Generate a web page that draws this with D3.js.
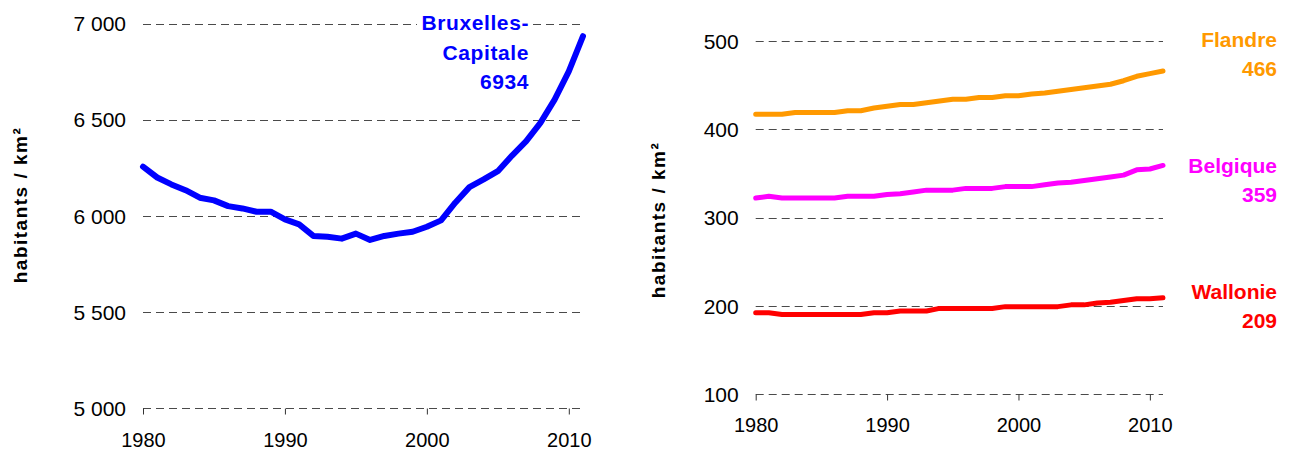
<!DOCTYPE html>
<html>
<head>
<meta charset="utf-8">
<script src="https://cdn.jsdelivr.net/npm/d3@7"></script>
<style>
  body { margin: 0; background: #fff; }
  text { font-family: "Liberation Sans", Arial, sans-serif; }
</style>
</head>
<body>
<svg id="chart" width="1293" height="449"></svg>
<script>
// data
var years = d3.range(1980, 2012)
var bruxelles = [6255, 6199, 6163, 6133, 6094, 6080, 6050, 6038, 6021, 6021,
    5981, 5955, 5895, 5891, 5881, 5907, 5874, 5895, 5907, 5917,
    5943, 5976, 6068, 6149, 6189, 6232, 6313, 6388, 6483, 6604, 6751, 6934]
var flandre = [417, 417, 417, 419, 419, 419, 419, 421, 421, 424,
    426, 428, 428, 430, 432, 434, 434, 436, 436, 438,
    438, 440, 441, 443, 445, 447, 449, 451, 455, 460, 463, 466]
var belgique = [322, 324, 322, 322, 322, 322, 322, 324, 324, 324,
    326, 327, 329, 331, 331, 331, 333, 333, 333, 335,
    335, 335, 337, 339, 340, 342, 344, 346, 348, 354, 355, 359]
var wallonie = [192, 192, 190, 190, 190, 190, 190, 190, 190, 192,
    192, 194, 194, 194, 197, 197, 197, 197, 197, 199,
    199, 199, 199, 199, 201, 201, 203, 204, 206, 208, 208, 209]
var leftTicks = [5000, 5500, 6000, 6500, 7000]
var rightTicks = [100, 200, 300, 400, 500]
var yearTicks = [1980, 1990, 2000, 2010]
var yTitle = "habitants / km²"

var fr = d3.formatLocale({decimal: ",", thousands: " ", grouping: [3], currency: ["", ""]})
var fmt = fr.format(",")

var svg = d3.select("#chart")

function panel(opts) {
    var g = svg.append("g")
    var x = d3.scaleLinear().domain([1980, 2011]).range(opts.xr)
    var y = d3.scaleLinear().domain(opts.yd).range(opts.yr)

    // dashed grid
    g.selectAll(".grid").data(opts.ticks).enter().append("line")
        .attr("x1", x(1980)).attr("x2", x(2011))
        .attr("y1", function(d) { return Math.round(y(d)) + 0.5 })
        .attr("y2", function(d) { return Math.round(y(d)) + 0.5 })
        .attr("stroke", "#4a4a4a").attr("stroke-width", 1)
        .attr("stroke-dasharray", "8,5")

    // x axis (ticks only)
    var xa = g.append("g").attr("transform", "translate(0," + (Math.round(y(opts.yd[0])) + 0.5) + ")")
        .call(d3.axisBottom(x).tickValues(yearTicks).tickFormat(d3.format("d")).tickSize(6))
    xa.select(".domain").remove()
    xa.selectAll("line").attr("stroke", "#333")
    xa.selectAll("text").attr("y", opts.xlab).attr("dy", 0)
        .attr("font-size", "20px").attr("fill", "#000").attr("font-family", "Liberation Sans, Arial, sans-serif")

    // y axis labels
    var ya = g.append("g").attr("transform", "translate(" + x(1980) + ",0)")
        .call(d3.axisLeft(y).tickValues(opts.ticks).tickFormat(fmt).tickSize(0).tickPadding(17))
    ya.select(".domain").remove()
    ya.selectAll("text").attr("font-size", "21px").attr("fill", "#000")
        .attr("dy", "0.35em").attr("font-family", "Liberation Sans, Arial, sans-serif")

    g.append("text")
        .attr("transform", "translate(" + opts.tx + "," + opts.ty + ") rotate(-90)")
        .attr("text-anchor", "middle").attr("font-weight", "bold").attr("font-size", "19px")
        .attr("letter-spacing", 1.5)
        .text(yTitle)

    var line = d3.line().x(function(d, i) { return x(years[i]) }).y(function(d) { return y(d) })
    opts.series.forEach(function(s) {
        g.append("path").datum(s.values)
            .attr("d", line).attr("fill", "none")
            .attr("stroke", s.color).attr("stroke-width", s.w)
            .attr("stroke-linejoin", "round").attr("stroke-linecap", "round")
    })

    opts.series.forEach(function(s) {
        var lab = g.append("g")
        var lines = s.name.concat([String(s.values[s.values.length - 1])])
        if (s.bg) {
            lab.append("rect").attr("x", s.lx - 112).attr("y", s.ly - 18)
                .attr("width", 116).attr("height", 22).attr("fill", "#fff")
        }
        lines.forEach(function(t, i) {
            lab.append("text").attr("x", s.lx).attr("y", s.ly + i * s.gap)
                .attr("text-anchor", "end").attr("font-weight", "bold")
                .attr("font-size", "21px").attr("fill", s.color)
                .attr("letter-spacing", s.ls || 0)
                .text(t)
        })
    })
}

panel({
    xr: [143, 583], yd: [5000, 7000], yr: [408, 23.5], ticks: leftTicks,
    xlab: 38, tx: 27, ty: 205,
    series: [{name: ["Bruxelles-", "Capitale"], values: bruxelles, color: "#0000ff", w: 6,
        lx: 529, ly: 30, gap: 29.5, bg: true, ls: 0.6}]
})

panel({
    xr: [755.7, 1163], yd: [100, 500], yr: [394, 41], ticks: rightTicks,
    xlab: 37, tx: 665, ty: 220,
    series: [
        {name: ["Flandre"], values: flandre, color: "#ff9900", w: 5, lx: 1277, ly: 47, gap: 28.5},
        {name: ["Belgique"], values: belgique, color: "#ff00ff", w: 5, lx: 1277, ly: 173, gap: 28.5},
        {name: ["Wallonie"], values: wallonie, color: "#ff0000", w: 5, lx: 1277, ly: 299, gap: 29}
    ]
})
</script>
</body>
</html>
